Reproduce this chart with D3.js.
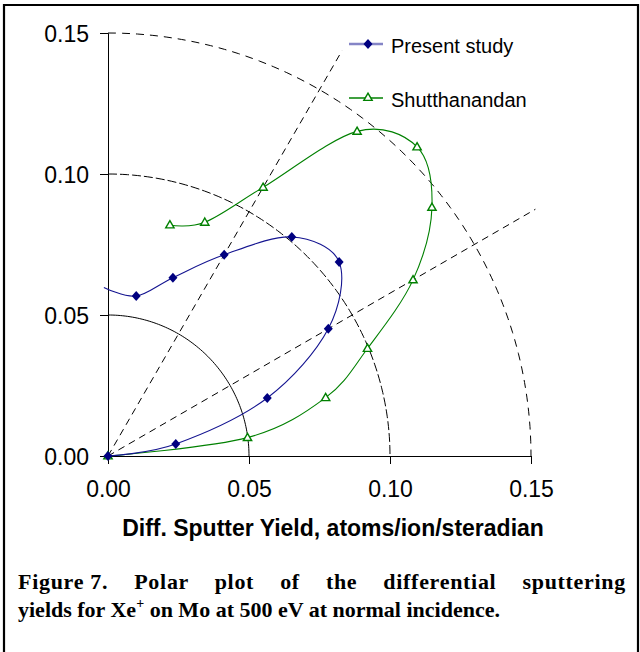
<!DOCTYPE html>
<html>
<head>
    <script src="https://d3js.org/d3.v7.min.js"></script>
    <style>
        body { margin: 0; background: #fff; }
        svg { display: block; }
        .tick-label { font-family: Arial, "Liberation Sans", sans-serif; font-size: 23px; fill: #000; }
        .legend-text { font-family: Arial, "Liberation Sans", sans-serif; font-size: 20px; fill: #000; }
        .axis-title { font-family: Arial, "Liberation Sans", sans-serif; font-size: 23px; font-weight: bold; fill: #000; }
        .caption { font-family: "Times New Roman", "Liberation Serif", serif; font-size: 22px; font-weight: bold; fill: #000; }
    </style>
</head>
<body>
    <svg width="640" height="652"></svg>
    <script>
        // polar angle from the surface normal (deg) and differential yield
        const presentAngle = [90, 80, 70, 60, 50, 40, 30, 20, 10, -1.4];
        const presentYield = [0, 0.0244, 0.0601, 0.0902, 0.1070, 0.1014, 0.0824, 0.0673, 0.0576, 0.0598];

        const shuttAngle = [90, 82.5, 75, 67.5, 60, 52.5, 45, 37.5, 30, 22.5, 15];
        const shuttYield = [0, 0.0499, 0.0799, 0.0996, 0.1249, 0.1448, 0.1550, 0.1451, 0.1100, 0.0897, 0.0848];

        const ticks = [0, 0.05, 0.10, 0.15];
        const rings = [0.05, 0.10, 0.15];
        const rayAngle = [30, 60];
        const rayLength = [0.166, 0.175];
        const seriesNames = ['Present study', 'Shutthanandan'];

        const svg = d3.select('svg');

        // frame
        svg.append('path')
            .attr('d', 'M4,652 L4,5 L638,5 L638,652')
            .attr('fill', 'none')
            .attr('stroke', '#000')
            .attr('stroke-width', 2.2);

        const x = d3.scaleLinear().domain([0, 0.15]).range([108, 531]);
        const y = d3.scaleLinear().domain([0, 0.15]).range([456, 33]);

        const toXY = (a, r) => {
            const t = a * Math.PI / 180;
            return [r * Math.sin(t), r * Math.cos(t)];
        };

        // rings
        const ringStyle = [null, '9,3', '8,6'];
        rings.forEach((r, i) => {
            const pts = d3.range(0, 91, 1).map(a => toXY(a, r));
            svg.append('path')
                .attr('d', d3.line().x(d => x(d[0])).y(d => y(d[1]))(pts))
                .attr('fill', 'none')
                .attr('stroke', '#000')
                .attr('stroke-width', 1)
                .attr('stroke-dasharray', ringStyle[i]);
        });

        // rays
        rayAngle.forEach((a, i) => {
            const p = toXY(a, rayLength[i]);
            svg.append('line')
                .attr('x1', x(0)).attr('y1', y(0))
                .attr('x2', x(p[0])).attr('y2', y(p[1]))
                .attr('stroke', '#000')
                .attr('stroke-width', 1)
                .attr('stroke-dasharray', '7,5');
        });

        // axes
        const gx = svg.append('g')
            .attr('transform', `translate(0,${y(0)})`)
            .call(d3.axisBottom(x).tickValues(ticks).tickSize(8).tickFormat(d3.format('.2f')));
        const gy = svg.append('g')
            .attr('transform', `translate(${x(0)},0)`)
            .call(d3.axisLeft(y).tickValues(ticks).tickSize(8).tickFormat(d3.format('.2f')));
        [gx, gy].forEach(g => {
            g.select('.domain').attr('stroke', '#000').attr('stroke-width', 1);
            g.selectAll('.tick line').attr('stroke', '#000');
            g.selectAll('.tick text').attr('class', 'tick-label').attr('font-size', null).attr('font-family', null);
        });
        gx.selectAll('.tick text').attr('y', 25);
        gy.selectAll('.tick text').attr('x', -19).attr('dy', '0.35em');

        svg.append('text')
            .attr('class', 'axis-title')
            .attr('x', 333).attr('y', 536)
            .attr('text-anchor', 'middle')
            .text('Diff. Sputter Yield, atoms/ion/steradian');

        const line = d3.line()
            .x(d => x(d[0]))
            .y(d => y(d[1]))
            .curve(d3.curveCardinal.tension(0));

        const present = presentAngle.map((a, i) => toXY(a, presentYield[i]));
        const shutt = shuttAngle.map((a, i) => toXY(a, shuttYield[i]));

        svg.append('path')
            .attr('d', line(shutt))
            .attr('fill', 'none')
            .attr('stroke', '#008000')
            .attr('stroke-width', 1.1);

        svg.append('path')
            .attr('d', line(present))
            .attr('fill', 'none')
            .attr('stroke', '#141490')
            .attr('stroke-width', 1.1);

        const tri = d3.symbol().type(d3.symbolTriangle).size(30);
        const dia = d => `M${d[0]},${d[1] - 5} L${d[0] + 4.5},${d[1]} L${d[0]},${d[1] + 5} L${d[0] - 4.5},${d[1]} Z`;

        svg.selectAll('.tri')
            .data(shutt)
            .enter()
            .append('path')
            .attr('d', tri)
            .attr('transform', d => `translate(${x(d[0])},${y(d[1]) + 0.5})`)
            .attr('fill', '#fff')
            .attr('stroke', '#008000')
            .attr('stroke-width', 1.4);

        // points left of the axis fall outside the plot area, no marker there
        svg.selectAll('.dia')
            .data(present.filter(d => d[0] >= 0))
            .enter()
            .append('path')
            .attr('d', d => dia([x(d[0]), y(d[1])]))
            .attr('fill', '#000080');

        // legend
        const legY = [44, 98];
        const lg = svg.append('g');
        lg.append('line')
            .attr('x1', 349).attr('x2', 383).attr('y1', legY[0]).attr('y2', legY[0])
            .attr('stroke', '#8585c6').attr('stroke-width', 2.5);
        lg.append('path')
            .attr('d', dia([368, legY[0]]))
            .attr('fill', '#000080');
        lg.append('line')
            .attr('x1', 349).attr('x2', 383).attr('y1', legY[1]).attr('y2', legY[1])
            .attr('stroke', '#008000').attr('stroke-width', 1.3);
        lg.append('path')
            .attr('d', tri)
            .attr('transform', `translate(368,${legY[1]})`)
            .attr('fill', '#fff')
            .attr('stroke', '#008000')
            .attr('stroke-width', 1.4);
        seriesNames.forEach((n, i) => {
            lg.append('text')
                .attr('class', 'legend-text')
                .attr('x', 391).attr('y', legY[i] + 8.5)
                .text(n);
        });

        // caption, first line justified by widening the gaps after "Figure 7."
        const cap1 = svg.append('text')
            .attr('class', 'caption')
            .attr('x', 18).attr('y', 589)
            .attr('letter-spacing', 0.7);
        cap1.append('tspan').text('Figure 7.');
        const rest = cap1.append('tspan').text(' Polar plot of the differential sputtering');
        const gaps = 6;
        const natural = cap1.node().getComputedTextLength();
        rest.attr('word-spacing', Math.max(0, (608 - natural) / gaps));

        const cap2 = svg.append('text')
            .attr('class', 'caption')
            .attr('x', 18).attr('y', 617);
        cap2.append('tspan').text('yields for Xe');
        cap2.append('tspan').attr('font-size', 14).attr('dy', -9).text('+');
        cap2.append('tspan').attr('dy', 9).text(' on Mo at 500 eV at normal incidence.');
    </script>
</body>
</html>
